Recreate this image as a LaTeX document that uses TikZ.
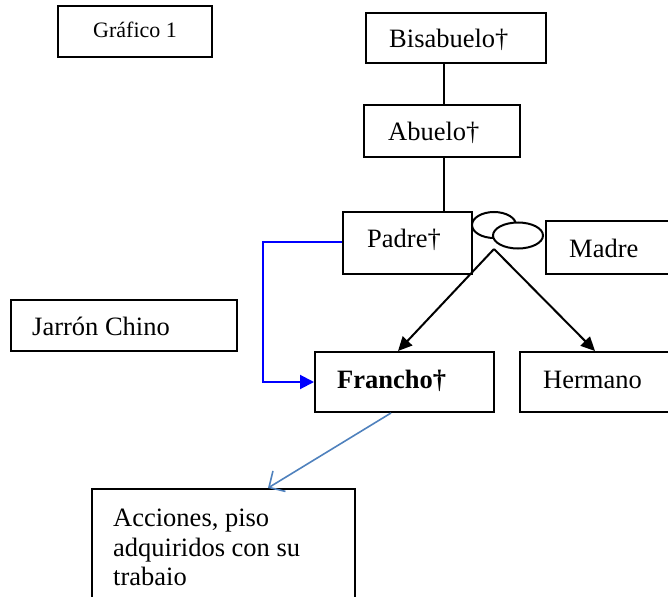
\documentclass[tikz,border=0pt]{standalone}
\usepackage{fontspec}
\setmainfont{Liberation Serif}
\usetikzlibrary{arrows.meta}
\begin{document}
\begin{tikzpicture}[x=1pt,y=-1pt,
  box/.style={draw=black, line width=2pt, minimum width=#1, inner sep=0pt},
  txt/.style={font=\fontsize{26.5}{29.5}\selectfont, inner sep=0pt, anchor=base west},
  conn/.style={line width=2pt},
  blueconn/.style={draw={rgb,255:red,0;green,0;blue,255}, line width=2pt},
  greyconn/.style={draw={rgb,255:red,79;green,129;blue,189}, line width=1.6pt}]
\useasboundingbox (0,0) rectangle (668,596);
% boxes
\node[box=154pt, minimum height=51pt] (graf) at (135,31.5) {};
\node[txt, font=\fontsize{22}{26}\selectfont] (grafT) at (93,38) {Gráfico 1};
\node[box=180pt, minimum height=50pt] (bis) at (456,38) {};
\node[txt] (bisT) at (389,48) {Bisabuelo†};
\node[box=156pt, minimum height=52pt] (abu) at (442,131) {};
\node[txt] (abuT) at (388,141) {Abuelo†};
\node[box=129pt, minimum height=62pt] (pad) at (407.5,243) {};
\node[txt] (padT) at (367,247) {Padre†};
\node[box=130pt, minimum height=53pt] (mad) at (611,247.5) {};
\node[txt] (madT) at (569,257) {Madre};
\node[box=226pt, minimum height=51pt] (jar) at (124,325.5) {};
\node[txt] (jarT) at (32,335) {Jarrón Chino};
\node[box=179pt, minimum height=60pt] (fra) at (404.5,382) {};
\node[txt] (fraT) at (337,388) {\textbf{Francho†}};
\node[box=150pt, minimum height=60pt] (her) at (595,382) {};
\node[txt] (herT) at (543,388) {Hermano};
\node[box=263pt, minimum height=120pt] (acc) at (223.5,549) {};
\node[txt] (accT1) at (113,526) {Acciones, piso};
\node[txt] (accT2) at (113,556) {adquiridos con su};
\node[txt] (accT3) at (113,585) {trabaio};
% vertical lines
\draw[conn] (bis.south -| 444,0) -- (abu.north -| 444,0);
\draw[conn] (abu.south -| 444,0) -- (pad.north -| 444,0);
% marriage ellipses
\draw[line width=2pt, fill=white] (494,225) ellipse [x radius=22, y radius=13];
\draw[line width=2pt, fill=white] (518,235.5) ellipse [x radius=25, y radius=13];
\coordinate (peak) at (494,249);
\draw[conn, -{Triangle[length=14pt,width=13pt]}] (peak) -- (fra.north -| 398,0);
\draw[conn, -{Triangle[length=14pt,width=13pt]}] (peak) -- (her.north -| 595,0);
% blue connector
\draw[blueconn, -{Triangle[length=14pt,width=14pt]}] (pad.west |- 0,242) -- (263,242) -- (263,382) -- (fra.west |- 0,382);
% grey connector
\draw[greyconn, -{Straight Barb[length=12pt,width=24pt]}] (fra.south -| 391,0) -- (acc.north -| 268,0);
\end{tikzpicture}
\end{document}
